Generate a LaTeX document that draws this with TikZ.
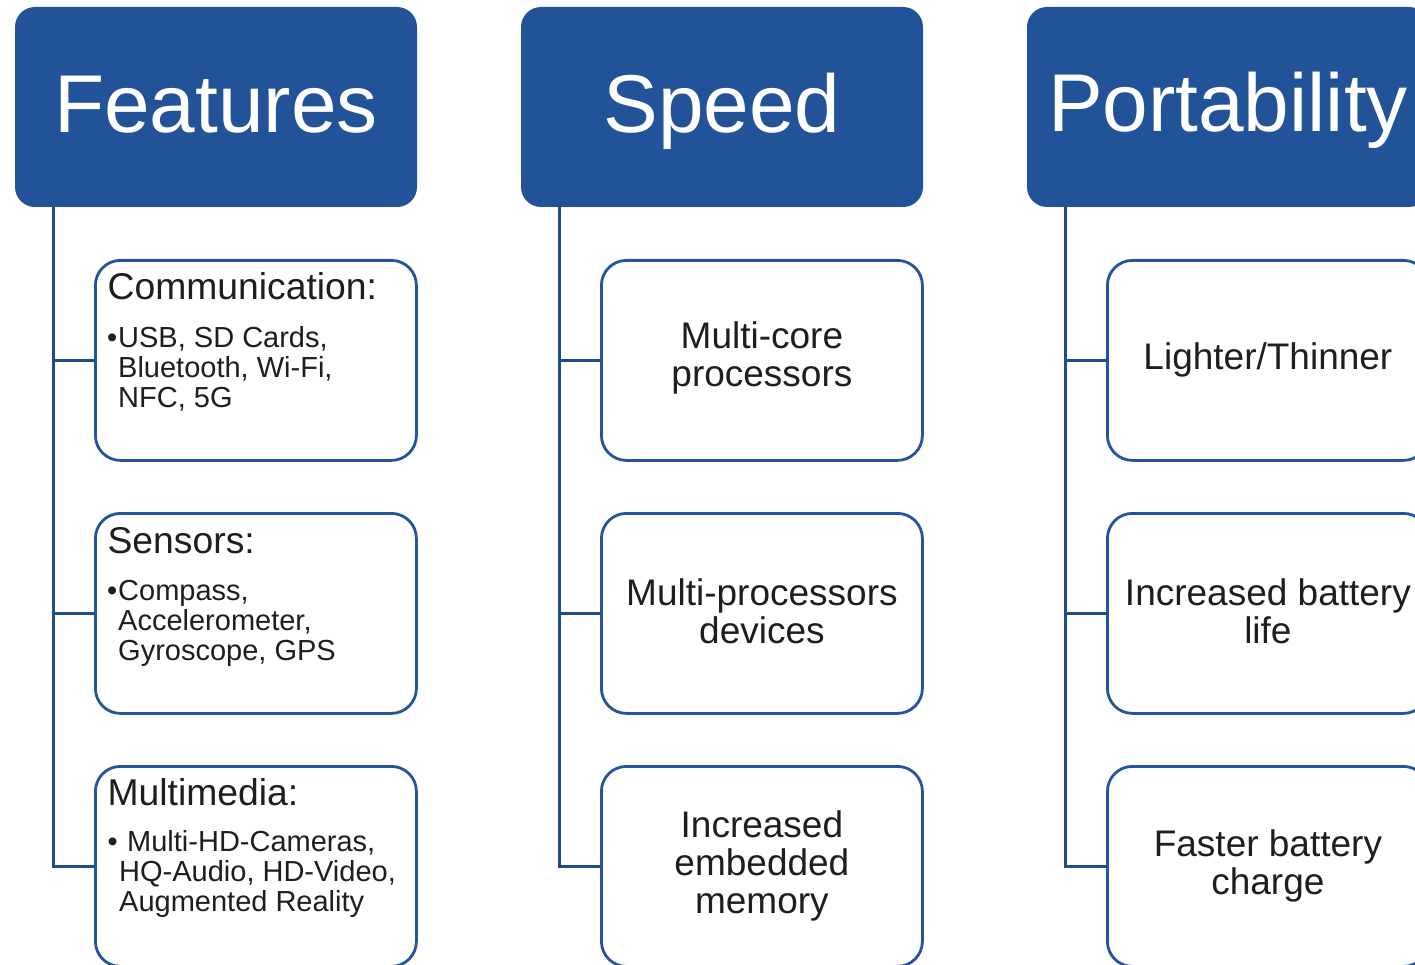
\documentclass[tikz,border=0pt]{standalone}
\usepackage{fontspec}
\setmainfont{Liberation Sans}
\usetikzlibrary{calc}
\definecolor{hdr}{RGB}{34,83,153}
\definecolor{bord}{RGB}{36,85,156}
\definecolor{connc}{RGB}{31,77,140}
\definecolor{ink}{RGB}{30,30,30}
\begin{document}
\begin{tikzpicture}[x=1pt,y=-1pt,
  hdrbox/.style={draw=none, fill=hdr, rounded corners=20pt, minimum width=402pt, minimum height=200pt, inner sep=0pt, outer sep=0pt, anchor=north west},
  childbox/.style={draw=bord, line width=2.8pt, fill=white, rounded corners=25pt, minimum width=321pt, minimum height=200pt, inner sep=0pt, outer sep=0pt, anchor=north west},
  hdrtext/.style={text=white, font=\fontsize{82}{82}\selectfont, anchor=base, inner sep=0pt},
  ttl/.style={text=ink, font=\fontsize{37.3}{38}\selectfont, anchor=base west, inner sep=0pt},
  bul/.style={text=ink, font=\fontsize{29}{30}\selectfont, anchor=base west, inner sep=0pt},
  ctext/.style={text=ink, font=\fontsize{37}{38}\selectfont, align=center, inner sep=0pt},
  connline/.style={draw=connc, line width=2.8pt}
]
\useasboundingbox (0,0) rectangle (1415,965);
\clip (0,0) rectangle (1415,965);

% headers
\node[hdrbox] (hF) at (15,7) {};
\node[hdrbox] (hS) at (521,7) {};
\node[hdrbox] (hP) at (1027,7) {};
\node[hdrtext] (hFt) at ($(hF.north)+(0,126)$) {Features};
\node[hdrtext] (hSt) at ($(hS.north)+(0,126)$) {Speed};
\node[hdrtext] (hPt) at ($(hP.north)+(0,125)$) {Portability};

% child box positions (border path corners)
\coordinate (F1) at (95.4,260.4);
\coordinate (F2) at (95.4,513.4);
\coordinate (F3) at (95.4,766.4);
\coordinate (S1) at (601.4,260.4);
\coordinate (S2) at (601.4,513.4);
\coordinate (S3) at (601.4,766.4);
\coordinate (P1) at (1107.4,260.4);
\coordinate (P2) at (1107.4,513.4);
\coordinate (P3) at (1107.4,766.4);

\foreach \h in {hF, hS, hP}{
  \coordinate (\h top) at ($(\h.south west)+(38.5,0)$);
}
\foreach \h in {F, S, P}{
  \foreach \i in {1,2,3}{
    \node[childbox] (b\h\i) at (\h\i) {};
  }
}
% connectors
\draw[connline] (hFtop) |- (bF1.west);
\draw[connline] (hFtop) |- (bF2.west);
\draw[connline] (hFtop) |- (bF3.west);
\draw[connline] (hStop) |- (bS1.west);
\draw[connline] (hStop) |- (bS2.west);
\draw[connline] (hStop) |- (bS3.west);
\draw[connline] (hPtop) |- (bP1.west);
\draw[connline] (hPtop) |- (bP2.west);
\draw[connline] (hPtop) |- (bP3.west);

% Features texts
\node[ttl] (tF1) at ($(bF1.north west)+(12,39.6)$) {Communication:};
\node[bul] (uF1) at ($(bF1.north west)+(11.5,86.6)$) {\textbullet};
\node[bul] (xF1) at ($(bF1.north west)+(22.6,86.6)$) {\parbox[t]{300pt}{USB, SD Cards,\\Bluetooth, Wi-Fi,\\NFC, 5G}};

\node[ttl] (tF2) at ($(bF2.north west)+(12,39.6)$) {Sensors:};
\node[bul] (uF2) at ($(bF2.north west)+(11.5,86.6)$) {\textbullet};
\node[bul] (xF2) at ($(bF2.north west)+(22.6,86.6)$) {\parbox[t]{300pt}{Compass,\\Accelerometer,\\Gyroscope, GPS}};

\node[ttl] (tF3) at ($(bF3.north west)+(12,38.6)$) {Multimedia:};
\node[bul] (uF3) at ($(bF3.north west)+(12,84.6)$) {\textbullet};
\node[bul] (xF3) at ($(bF3.north west)+(23.6,84.6)$) {\parbox[t]{300pt}{\hspace*{8pt}Multi-HD-Cameras,\\HQ-Audio, HD-Video,\\Augmented Reality}};

% Speed texts
\node[ctext] (tS1) at ($(bS1.center)+(0,-2)$) {Multi-core\\processors};
\node[ctext] (tS2) at ($(bS2.center)+(0,-2)$) {Multi-processors\\devices};
\node[ctext] (tS3) at (bS3.center) {Increased\\embedded\\memory};

% Portability texts
\node[ctext] (tP1) at (bP1.center) {Lighter/Thinner};
\node[ctext] (tP2) at ($(bP2.center)+(0,-2)$) {Increased battery\\life};
\node[ctext] (tP3) at (bP3.center) {Faster battery\\charge};
\end{tikzpicture}
\end{document}
